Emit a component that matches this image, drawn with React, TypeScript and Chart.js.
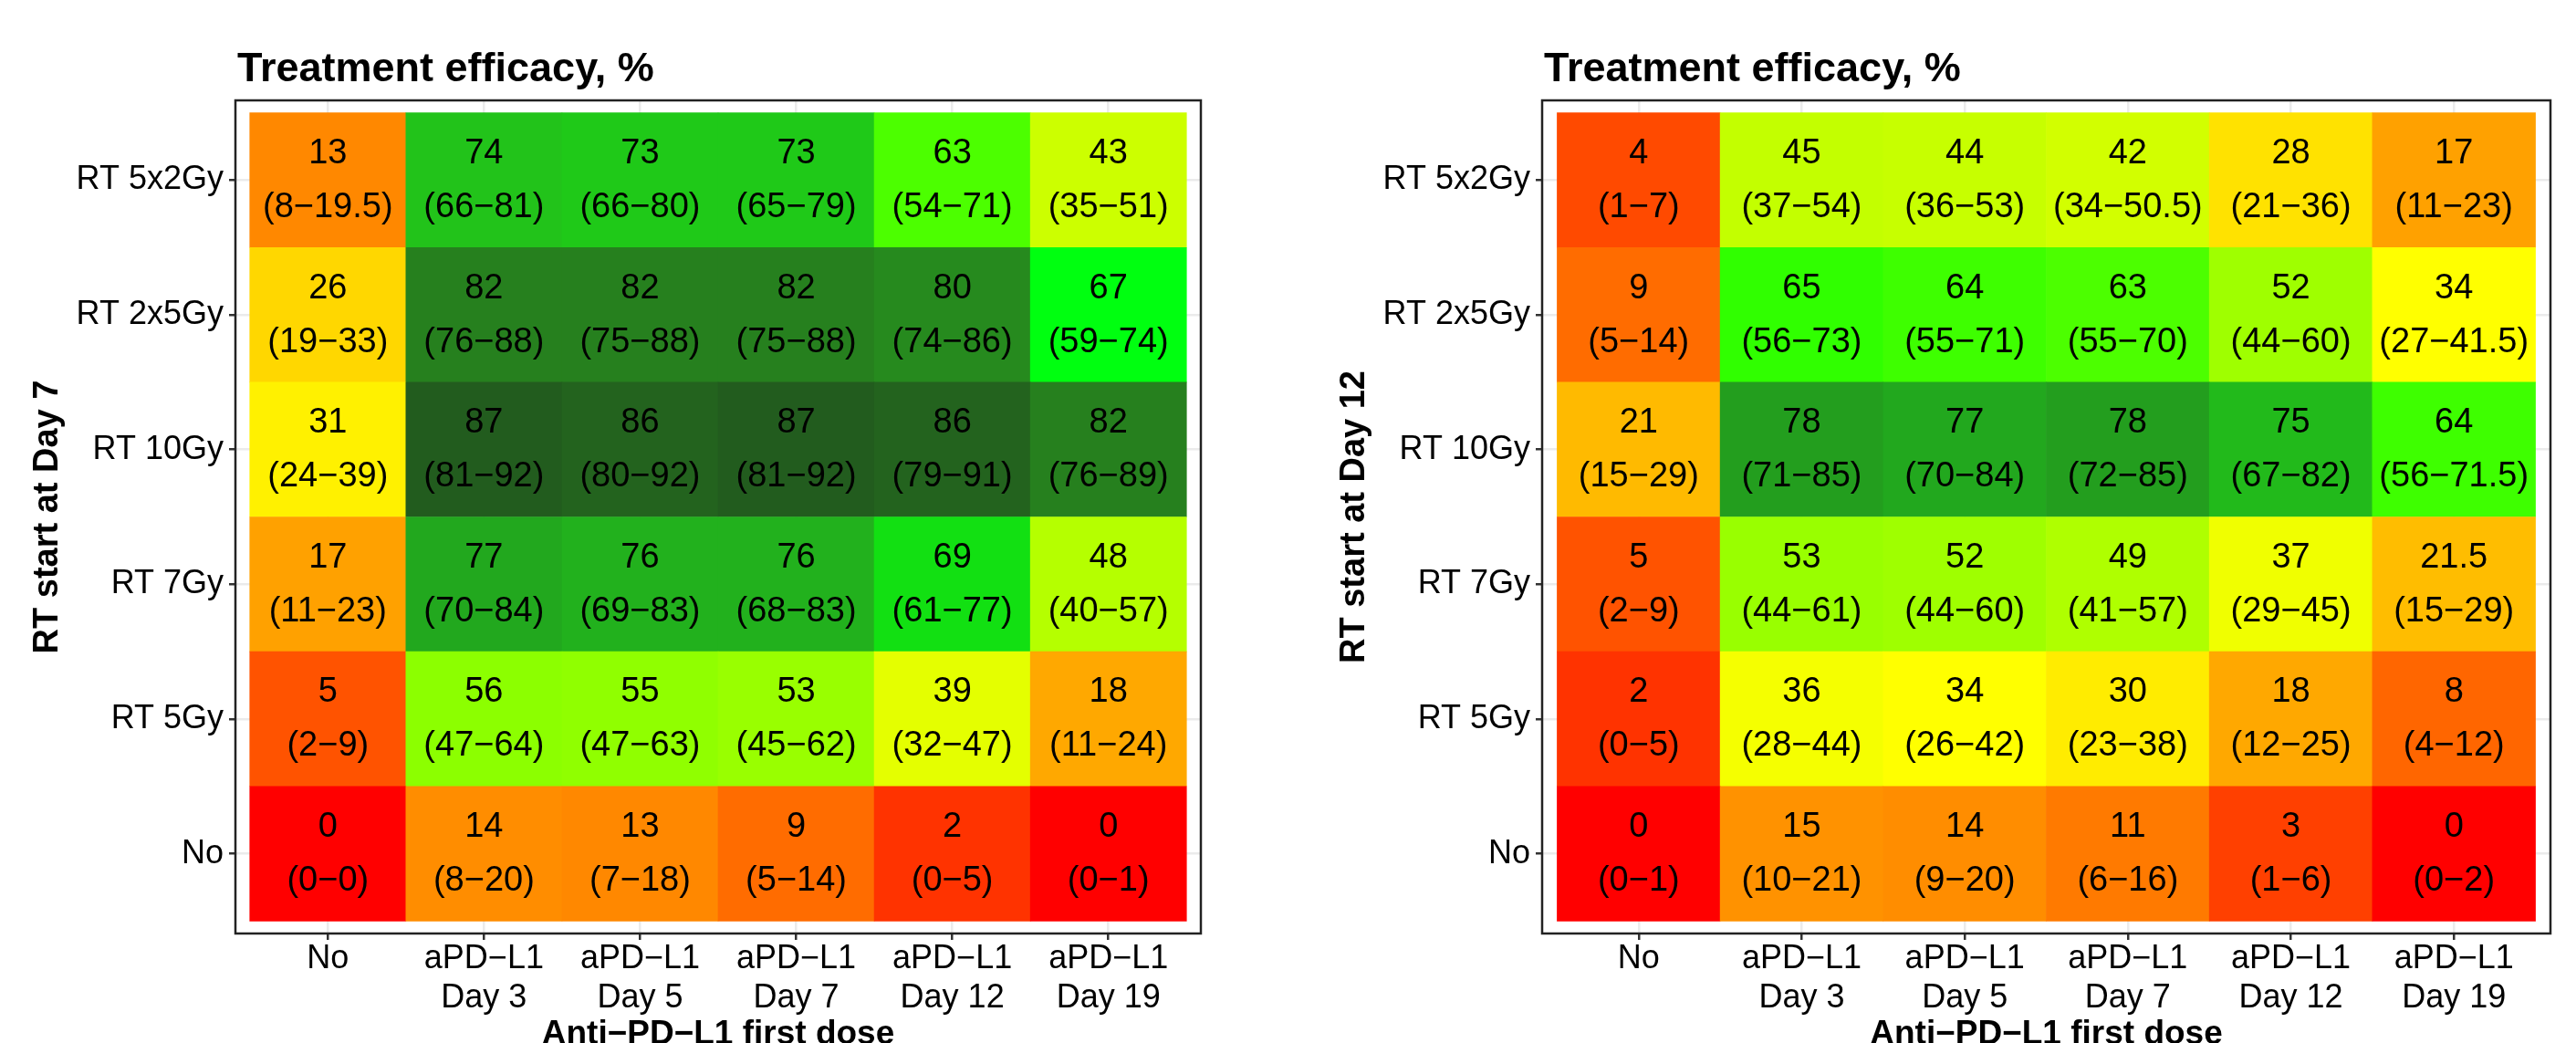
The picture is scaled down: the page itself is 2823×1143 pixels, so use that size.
import { useEffect, useRef } from 'react';
import { Chart, registerables } from 'chart.js';

Chart.register(...registerables);

// ---------- DATA ----------
// x categories (anti-PD-L1 first dose)
const colLabels: (string | string[])[] = [
  'No',
  ['aPD\u2212L1', 'Day 3'],
  ['aPD\u2212L1', 'Day 5'],
  ['aPD\u2212L1', 'Day 7'],
  ['aPD\u2212L1', 'Day 12'],
  ['aPD\u2212L1', 'Day 19'],
];
// y categories, bottom to top
const rowLabels = ['No', 'RT 5Gy', 'RT 7Gy', 'RT 10Gy', 'RT 2x5Gy', 'RT 5x2Gy'];

// RT start at Day 7 — rows in the order of rowLabels (bottom to top)
const day7Efficacy = [
  [0, 14, 13, 9, 2, 0],
  [5, 56, 55, 53, 39, 18],
  [17, 77, 76, 76, 69, 48],
  [31, 87, 86, 87, 86, 82],
  [26, 82, 82, 82, 80, 67],
  [13, 74, 73, 73, 63, 43],
];
const day7Lower = [
  [0, 8, 7, 5, 0, 0],
  [2, 47, 47, 45, 32, 11],
  [11, 70, 69, 68, 61, 40],
  [24, 81, 80, 81, 79, 76],
  [19, 76, 75, 75, 74, 59],
  [8, 66, 66, 65, 54, 35],
];
const day7Upper = [
  [0, 20, 18, 14, 5, 1],
  [9, 64, 63, 62, 47, 24],
  [23, 84, 83, 83, 77, 57],
  [39, 92, 92, 92, 91, 89],
  [33, 88, 88, 88, 86, 74],
  [19.5, 81, 80, 79, 71, 51],
];

// RT start at Day 12
const day12Efficacy = [
  [0, 15, 14, 11, 3, 0],
  [2, 36, 34, 30, 18, 8],
  [5, 53, 52, 49, 37, 21.5],
  [21, 78, 77, 78, 75, 64],
  [9, 65, 64, 63, 52, 34],
  [4, 45, 44, 42, 28, 17],
];
const day12Lower = [
  [0, 10, 9, 6, 1, 0],
  [0, 28, 26, 23, 12, 4],
  [2, 44, 44, 41, 29, 15],
  [15, 71, 70, 72, 67, 56],
  [5, 56, 55, 55, 44, 27],
  [1, 37, 36, 34, 21, 11],
];
const day12Upper = [
  [1, 21, 20, 16, 6, 2],
  [5, 44, 42, 38, 25, 12],
  [9, 61, 60, 57, 45, 29],
  [29, 85, 84, 85, 82, 71.5],
  [14, 73, 71, 70, 60, 41.5],
  [7, 54, 53, 50.5, 36, 23],
];

// ---------- STYLE ----------
const FONT = '"Liberation Sans", Arial, Helvetica, sans-serif';
const colorStops: [number, string][] = [
  [0, '#FF0000'], [2, '#FF3300'], [3, '#FF4000'], [5, '#FF5300'], [9, '#FF6C00'],
  [13, '#FF8800'], [15, '#FF9200'], [18, '#FFA800'], [21, '#FFBA00'], [26, '#FFD700'],
  [30, '#FFEC00'], [34, '#FFFF00'], [37, '#F0FF00'], [43, '#CCFF00'], [48, '#B5FF00'],
  [53, '#99FF00'], [56, '#8CFF00'], [63, '#4CFF00'], [65, '#30FF00'], [67, '#00FF10'],
  [69, '#12E012'], [74, '#22C31A'], [77, '#22A81E'], [80, '#268A1E'], [82, '#26801E'],
  [87, '#225C1E'],
];

function hexToRgb(h: string) {
  return [parseInt(h.slice(1, 3), 16), parseInt(h.slice(3, 5), 16), parseInt(h.slice(5, 7), 16)];
}
function colorFor(v: number) {
  if (v <= colorStops[0][0]) return colorStops[0][1];
  for (let i = 1; i < colorStops.length; i++) {
    const [v1, c1] = colorStops[i];
    if (v <= v1) {
      const [v0, c0] = colorStops[i - 1];
      const t = (v - v0) / (v1 - v0);
      const a = hexToRgb(c0), b = hexToRgb(c1);
      const m = a.map((x, k) => Math.round(x + (b[k] - x) * t));
      return `rgb(${m[0]},${m[1]},${m[2]})`;
    }
  }
  return colorStops[colorStops.length - 1][1];
}

const PAD = 0.092;

const decorPlugin = {
  id: 'panelDecor',
  afterDatasetsDraw(chart: any, _args: any, opts: any) {
    const { ctx, chartArea } = chart;
    const xs = chart.scales.x, ys = chart.scales.y;
    ctx.save();
    ctx.fillStyle = '#000';
    ctx.font = `38px ${FONT}`;
    ctx.textAlign = 'center';
    ctx.textBaseline = 'middle';
    opts.values.forEach((row: number[], r: number) => {
      row.forEach((v: number, c: number) => {
        const px = xs.getPixelForValue(c);
        const py = ys.getPixelForValue(r);
        ctx.fillText(String(v), px, py - 29);
        ctx.fillText(`(${opts.lows[r][c]}\u2212${opts.highs[r][c]})`, px, py + 30);
      });
    });
    // panel border
    ctx.strokeStyle = '#222';
    ctx.lineWidth = 2.5;
    ctx.strokeRect(chartArea.left, chartArea.top, chartArea.right - chartArea.left, chartArea.bottom - chartArea.top);
    // title
    ctx.font = `bold 45px ${FONT}`;
    ctx.textAlign = 'left';
    ctx.textBaseline = 'alphabetic';
    ctx.fillText('Treatment efficacy, %', chartArea.left + 2, chartArea.top - 21);
    // y title
    ctx.save();
    ctx.translate(chartArea.left - 205, (chartArea.top + chartArea.bottom) / 2);
    ctx.rotate(-Math.PI / 2);
    ctx.font = `bold 38px ${FONT}`;
    ctx.textAlign = 'center';
    ctx.textBaseline = 'middle';
    ctx.fillText(opts.yTitle, 0, 0);
    ctx.restore();
    // x title
    ctx.font = `bold 37px ${FONT}`;
    ctx.textAlign = 'center';
    ctx.textBaseline = 'alphabetic';
    ctx.fillText('Anti\u2212PD\u2212L1 first dose', (chartArea.left + chartArea.right) / 2, chartArea.bottom + 121);
    ctx.restore();
  },
};

type PanelProps = {
  left: number;
  width: number;
  axisWidth: number;
  rightPad: number;
  values: number[][];
  lows: number[][];
  highs: number[][];
  yTitle: string;
};

function HeatPanel({ left, width, axisWidth, rightPad, values, lows, highs, yTitle }: PanelProps) {
  const ref = useRef<HTMLCanvasElement>(null);
  useEffect(() => {
    if (!ref.current) return;
    const datasets = values.map((row, r) => ({
      label: rowLabels[r],
      data: row.map((_, c) => ({ x: c, y: [r - 0.5, r + 0.5] })),
      backgroundColor: row.map((v) => colorFor(v)),
      borderWidth: 0,
      barPercentage: 1,
      categoryPercentage: 1,
      grouped: false,
    }));
    const chart = new Chart(ref.current, {
      type: 'bar',
      data: { datasets: datasets as any },
      plugins: [decorPlugin],
      options: {
        animation: false,
        responsive: false,
        devicePixelRatio: 1,
        layout: { padding: { top: 110, bottom: 0, left: 0, right: rightPad } },
        plugins: {
          legend: { display: false },
          tooltip: { enabled: false },
          panelDecor: { values, lows, highs, yTitle },
        } as any,
        scales: {
          x: {
            type: 'linear',
            offset: false,
            min: -0.5 - PAD,
            max: 5.5 + PAD,
            afterBuildTicks: (axis: any) => {
              axis.ticks = colLabels.map((_, i) => ({ value: i }));
            },
            afterFit: (scale: any) => {
              scale.height = 120;
            },
            border: { display: false },
            grid: { offset: false, color: '#EBEBEB', lineWidth: 2.5, tickColor: '#333333', tickWidth: 2.5, tickLength: 7 },
            ticks: {
              autoSkip: false,
              maxRotation: 0,
              minRotation: 0,
              padding: -1,
              color: '#000',
              font: { family: FONT, size: 36, lineHeight: 1.2 },
              callback: (v: any) => colLabels[Math.round(Number(v))] as any,
            },
          },
          y: {
            type: 'linear',
            offset: false,
            min: -0.5 - PAD,
            max: 5.5 + PAD,
            afterBuildTicks: (axis: any) => {
              axis.ticks = rowLabels.map((_, i) => ({ value: i }));
            },
            afterFit: (scale: any) => {
              scale.width = axisWidth;
            },
            border: { display: false },
            grid: { offset: false, color: '#EBEBEB', lineWidth: 2.5, tickColor: '#333333', tickWidth: 2.5, tickLength: 7 },
            ticks: {
              autoSkip: false,
              padding: 6,
              color: '#000',
              font: { family: FONT, size: 36 },
              callback: (v: any) => rowLabels[Math.round(Number(v))],
            },
          },
        },
      } as any,
    });
    return () => chart.destroy();
  }, []);
  return (
    <canvas
      ref={ref}
      width={width}
      height={1143}
      style={{ position: 'absolute', left, top: 0, width, height: 1143 }}
    />
  );
}

export default function App() {
  return (
    <div
      style={{
        position: 'fixed',
        left: 0,
        top: 0,
        width: 2823,
        height: 1143,
        overflow: 'hidden',
        background: '#fff',
      }}
    >
      <HeatPanel
        left={0}
        width={1411}
        axisWidth={258}
        rightPad={95}
        values={day7Efficacy}
        lows={day7Lower}
        highs={day7Upper}
        yTitle="RT start at Day 7"
      />
      <HeatPanel
        left={1411}
        width={1412}
        axisWidth={279}
        rightPad={28}
        values={day12Efficacy}
        lows={day12Lower}
        highs={day12Upper}
        yTitle="RT start at Day 12"
      />
    </div>
  );
}
